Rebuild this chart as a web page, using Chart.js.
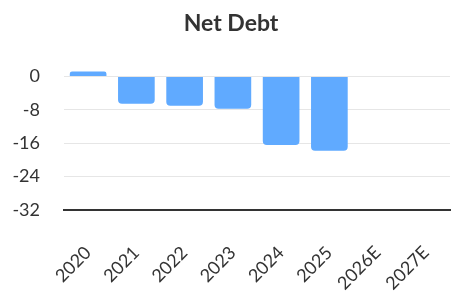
<!DOCTYPE html>
<html lang="en">
<head>
    <meta charset="UTF-8" />
    <title>Net Debt</title>
    <script src="https://cdn.jsdelivr.net/npm/chart.js"></script>
    <style>
        body { margin: 0; background: #fff; }
        #wrap { width: 464px; height: 305px; }
    </style>
</head>
<body>
    <div id="wrap"><canvas id="debtChart"></canvas></div>

    <script>
        const years = ['2020', '2021', '2022', '2023', '2024', '2025', '2026E', '2027E'];
        const netDebt = [1.2, -6.5, -7.0, -7.7, -16.4, -17.8, 0, 0];
        const yTicks = [0, -8, -16, -24, -32];

        // estimate years have no value, drawn as white zero bars
        const barColors = years.map(y => y.endsWith('E') ? '#ffffff' : '#60aaff');

        Chart.defaults.font.family = 'Lato';
        Chart.defaults.color = '#333';

        new Chart(document.getElementById('debtChart'), {
            type: 'bar',
            data: {
                labels: years,
                datasets: [{
                    data: netDebt,
                    backgroundColor: barColors,
                    borderRadius: 4,
                    barPercentage: 0.76,
                    categoryPercentage: 1,
                    minBarLength: 3,
                    clip: false
                }]
            },
            options: {
                responsive: true,
                maintainAspectRatio: false,
                animation: false,
                layout: { padding: { left: 12, right: 14, bottom: 0 } },
                plugins: {
                    legend: { display: false },
                    tooltip: { enabled: false },
                    title: {
                        display: true,
                        text: 'Net Debt',
                        color: '#333',
                        font: { size: 23, weight: 'bold' },
                        padding: { top: 10, bottom: 39 }
                    }
                },
                scales: {
                    x: {
                        grid: { display: false },
                        border: { color: '#333', width: 2 },
                        ticks: { font: { size: 18 }, maxRotation: 45, minRotation: 45, padding: 24 },
                        afterFit: axis => {
                            axis.paddingLeft = 0;
                            axis.paddingRight = 0;
                            axis.height = 95;
                        }
                    },
                    y: {
                        min: -32,
                        max: 0,
                        border: { display: false },
                        grid: { color: '#e6e6e6', drawTicks: false },
                        afterBuildTicks: axis => { axis.ticks = yTicks.map(v => ({ value: v })); },
                        ticks: { font: { size: 18 }, padding: 24 },
                        afterFit: axis => { axis.width = 52; }
                    }
                }
            }
        });
    </script>
</body>
</html>
